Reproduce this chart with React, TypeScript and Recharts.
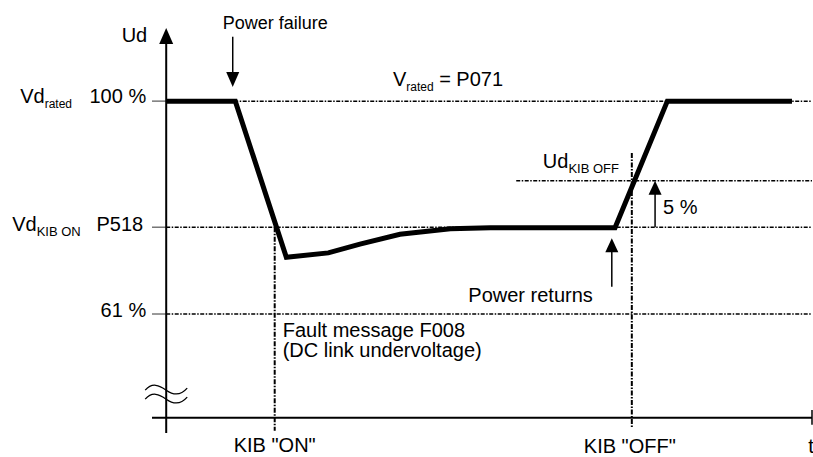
import { Line, LineChart, ReferenceDot, ReferenceLine, XAxis, YAxis } from 'recharts';

// thick Ud curve (time in arbitrary units, Ud in % of Vd rated)
const timeValues = [0, 10.7, 18.6, 25.1, 30.0, 36.2, 44.0, 50.2, 69.5, 77.6, 96.9];
const udValues = [100, 100, 71.4, 72.2, 73.8, 75.6, 76.6, 76.8, 76.8, 100, 100];

// reference levels
const levelRated = 100;
const levelKibOn = 76.9;
const levelKibOff = 85.4;
const level61 = 61;
const axisBase = 42;

// time markers
const powerFailTime = 10.3;
const kibOnTime = 16.8;
const kibOffLineStart = 54.2;
const powerReturnTime = 69.0;
const kibOffTime = 72.1;
const stepArrowTime = 75.7;
const tEnd = 100;

const xDomain: [number, number] = [-2.2, 100];
const yDomain: [number, number] = [39.2, 113.4];

const data = timeValues.map((t, i) => ({ t, ud: udValues[i] }));

const FONT = '"Liberation Sans", Arial, sans-serif';
const DASH = '4 1.5 1.5 1.5';
const VDASH = '5 1.5 1.5 1.5';

type Anchor = 'start' | 'middle' | 'end';

function textShape(content: React.ReactNode, dx: number, dy: number, anchor: Anchor = 'start', size = 20) {
  return (props: any) => (
    <text
      x={props.cx + dx}
      y={props.cy + dy}
      textAnchor={anchor}
      fontFamily={FONT}
      fontSize={size}
      fill="#000"
    >
      {content}
    </text>
  );
}

function arrowHead(dir: 'up' | 'down', w: number, h: number) {
  return (props: any) => {
    const { cx, cy } = props;
    const by = dir === 'down' ? cy - h : cy + h;
    return <polygon points={`${cx},${cy} ${cx - w / 2},${by} ${cx + w / 2},${by}`} fill="#000" />;
  };
}

function breakShape(props: any) {
  const { cx, cy } = props;
  const wave = (y: number) =>
    `M ${cx - 21} ${y} C ${cx - 14} ${y - 8} ${cx - 7} ${y - 5} ${cx} ${y} S ${cx + 14} ${y + 6} ${cx + 21} ${y - 2}`;
  return (
    <g fill="none" stroke="#000" strokeWidth={1.3}>
      <path d={wave(cy - 3)} />
      <path d={wave(cy + 6)} />
    </g>
  );
}

const sub = (s: string, size = 13) => (
  <tspan fontSize={size} dy={5}>
    {s}
  </tspan>
);

export default function App() {
  return (
    <div style={{ position: 'absolute', left: 0, top: 0, width: 813, height: 457, background: '#fff' }}>
      <LineChart width={813} height={457} data={data} margin={{ top: 28, right: 1, bottom: 24, left: 152 }}>
        <XAxis type="number" dataKey="t" domain={xDomain} allowDataOverflow hide />
        <YAxis type="number" domain={yDomain} allowDataOverflow hide />

        {/* gray ticks left of the axis */}
        {[levelRated, levelKibOn, level61].map((lv) => (
          <ReferenceLine
            key={`tick-${lv}`}
            segment={[{ x: xDomain[0], y: lv }, { x: 0, y: lv }]}
            stroke="#777"
            strokeWidth={1.5}
          />
        ))}

        {/* dash-dot level lines */}
        {[levelRated, levelKibOn, level61].map((lv) => (
          <ReferenceLine
            key={`lvl-${lv}`}
            segment={[{ x: 0, y: lv }, { x: tEnd, y: lv }]}
            stroke="#000"
            strokeWidth={1.5}
            strokeDasharray={DASH}
          />
        ))}
        <ReferenceLine
          segment={[{ x: kibOffLineStart, y: levelKibOff }, { x: tEnd, y: levelKibOff }]}
          stroke="#000"
          strokeWidth={1.5}
          strokeDasharray={DASH}
        />

        {/* vertical KIB markers */}
        <ReferenceLine
          segment={[{ x: kibOnTime, y: levelKibOn }, { x: kibOnTime, y: 39.6 }]}
          stroke="#000"
          strokeWidth={2}
          strokeDasharray={VDASH}
        />
        <ReferenceLine
          segment={[{ x: kibOffTime, y: 90.5 }, { x: kibOffTime, y: 40.1 }]}
          stroke="#000"
          strokeWidth={2}
          strokeDasharray={VDASH}
        />

        {/* axes */}
        <ReferenceLine segment={[{ x: xDomain[0], y: axisBase }, { x: tEnd, y: axisBase }]} stroke="#000" strokeWidth={2} />
        <ReferenceLine segment={[{ x: 0, y: yDomain[0] }, { x: 0, y: 111 }]} stroke="#000" strokeWidth={2} />
        <ReferenceLine segment={[{ x: tEnd, y: 43.4 }, { x: tEnd, y: 40.7 }]} stroke="#000" strokeWidth={1.5} />
        <ReferenceDot x={0} y={yDomain[1]} r={0} shape={arrowHead('up', 14, 16)} />
        <ReferenceDot x={0} y={46.5} r={0} shape={breakShape} />

        {/* annotation arrows */}
        <ReferenceLine segment={[{ x: powerFailTime, y: 111.8 }, { x: powerFailTime, y: 104 }]} stroke="#000" strokeWidth={1.5} />
        <ReferenceDot x={powerFailTime} y={102.6} r={0} shape={arrowHead('down', 13, 15)} />
        <ReferenceLine segment={[{ x: powerReturnTime, y: 66.0 }, { x: powerReturnTime, y: 73 }]} stroke="#000" strokeWidth={1.5} />
        <ReferenceDot x={powerReturnTime} y={74.9} r={0} shape={arrowHead('up', 13, 14)} />
        <ReferenceLine segment={[{ x: stepArrowTime, y: levelKibOn }, { x: stepArrowTime, y: 84 }]} stroke="#000" strokeWidth={1.5} />
        <ReferenceDot x={stepArrowTime} y={levelKibOff} r={0} shape={arrowHead('up', 13, 14)} />

        <Line
          type="linear"
          dataKey="ud"
          stroke="#000"
          strokeWidth={5}
          strokeLinejoin="miter"
          dot={false}
          activeDot={false}
          isAnimationActive={false}
        />

        {/* texts */}
        <ReferenceDot x={0} y={yDomain[1]} r={0} shape={textShape('Ud', -19, 14, 'end')} />
        <ReferenceDot x={0} y={levelRated} r={0} shape={textShape(<>Vd{sub('rated', 12)}</>, -146, 2)} />
        <ReferenceDot x={0} y={levelRated} r={0} shape={textShape('100 %', -20, 2, 'end')} />
        <ReferenceDot x={0} y={levelKibOn} r={0} shape={textShape(<>Vd{sub('KIB ON')}</>, -154, 4)} />
        <ReferenceDot x={0} y={levelKibOn} r={0} shape={textShape('P518', -23, 4, 'end')} />
        <ReferenceDot x={0} y={level61} r={0} shape={textShape('61 %', -20, 3, 'end')} />
        <ReferenceDot
          x={35.1}
          y={levelRated}
          r={0}
          shape={textShape(<>V{sub('rated', 12)}<tspan dy={-5}> = P071</tspan></>, 0, -15)}
        />
        <ReferenceDot x={powerFailTime} y={111.8} r={0} shape={textShape('Power failure', -10, -8, 'start', 18)} />
        <ReferenceDot x={kibOffTime} y={levelKibOff} r={0} shape={textShape(<>Ud{sub('KIB OFF')}</>, -89, -13)} />
        <ReferenceDot x={stepArrowTime} y={levelKibOff} r={0} shape={textShape('5 %', 8, 33)} />
        <ReferenceDot x={powerReturnTime} y={66.0} r={0} shape={textShape('Power returns', -19, 15, 'end')} />
        <ReferenceDot x={kibOnTime} y={level61} r={0} shape={textShape('Fault message F008', 8, 23)} />
        <ReferenceDot x={kibOnTime} y={level61} r={0} shape={textShape('(DC link undervoltage)', 8, 43)} />
        <ReferenceDot x={kibOnTime} y={axisBase} r={0} shape={textShape('KIB "ON"', 0, 34, 'middle')} />
        <ReferenceDot x={kibOffTime} y={axisBase} r={0} shape={textShape('KIB "OFF"', -2, 35, 'middle')} />
        <ReferenceDot x={tEnd} y={axisBase} r={0} shape={textShape('t', -1, 35, 'middle')} />
      </LineChart>
    </div>
  );
}
